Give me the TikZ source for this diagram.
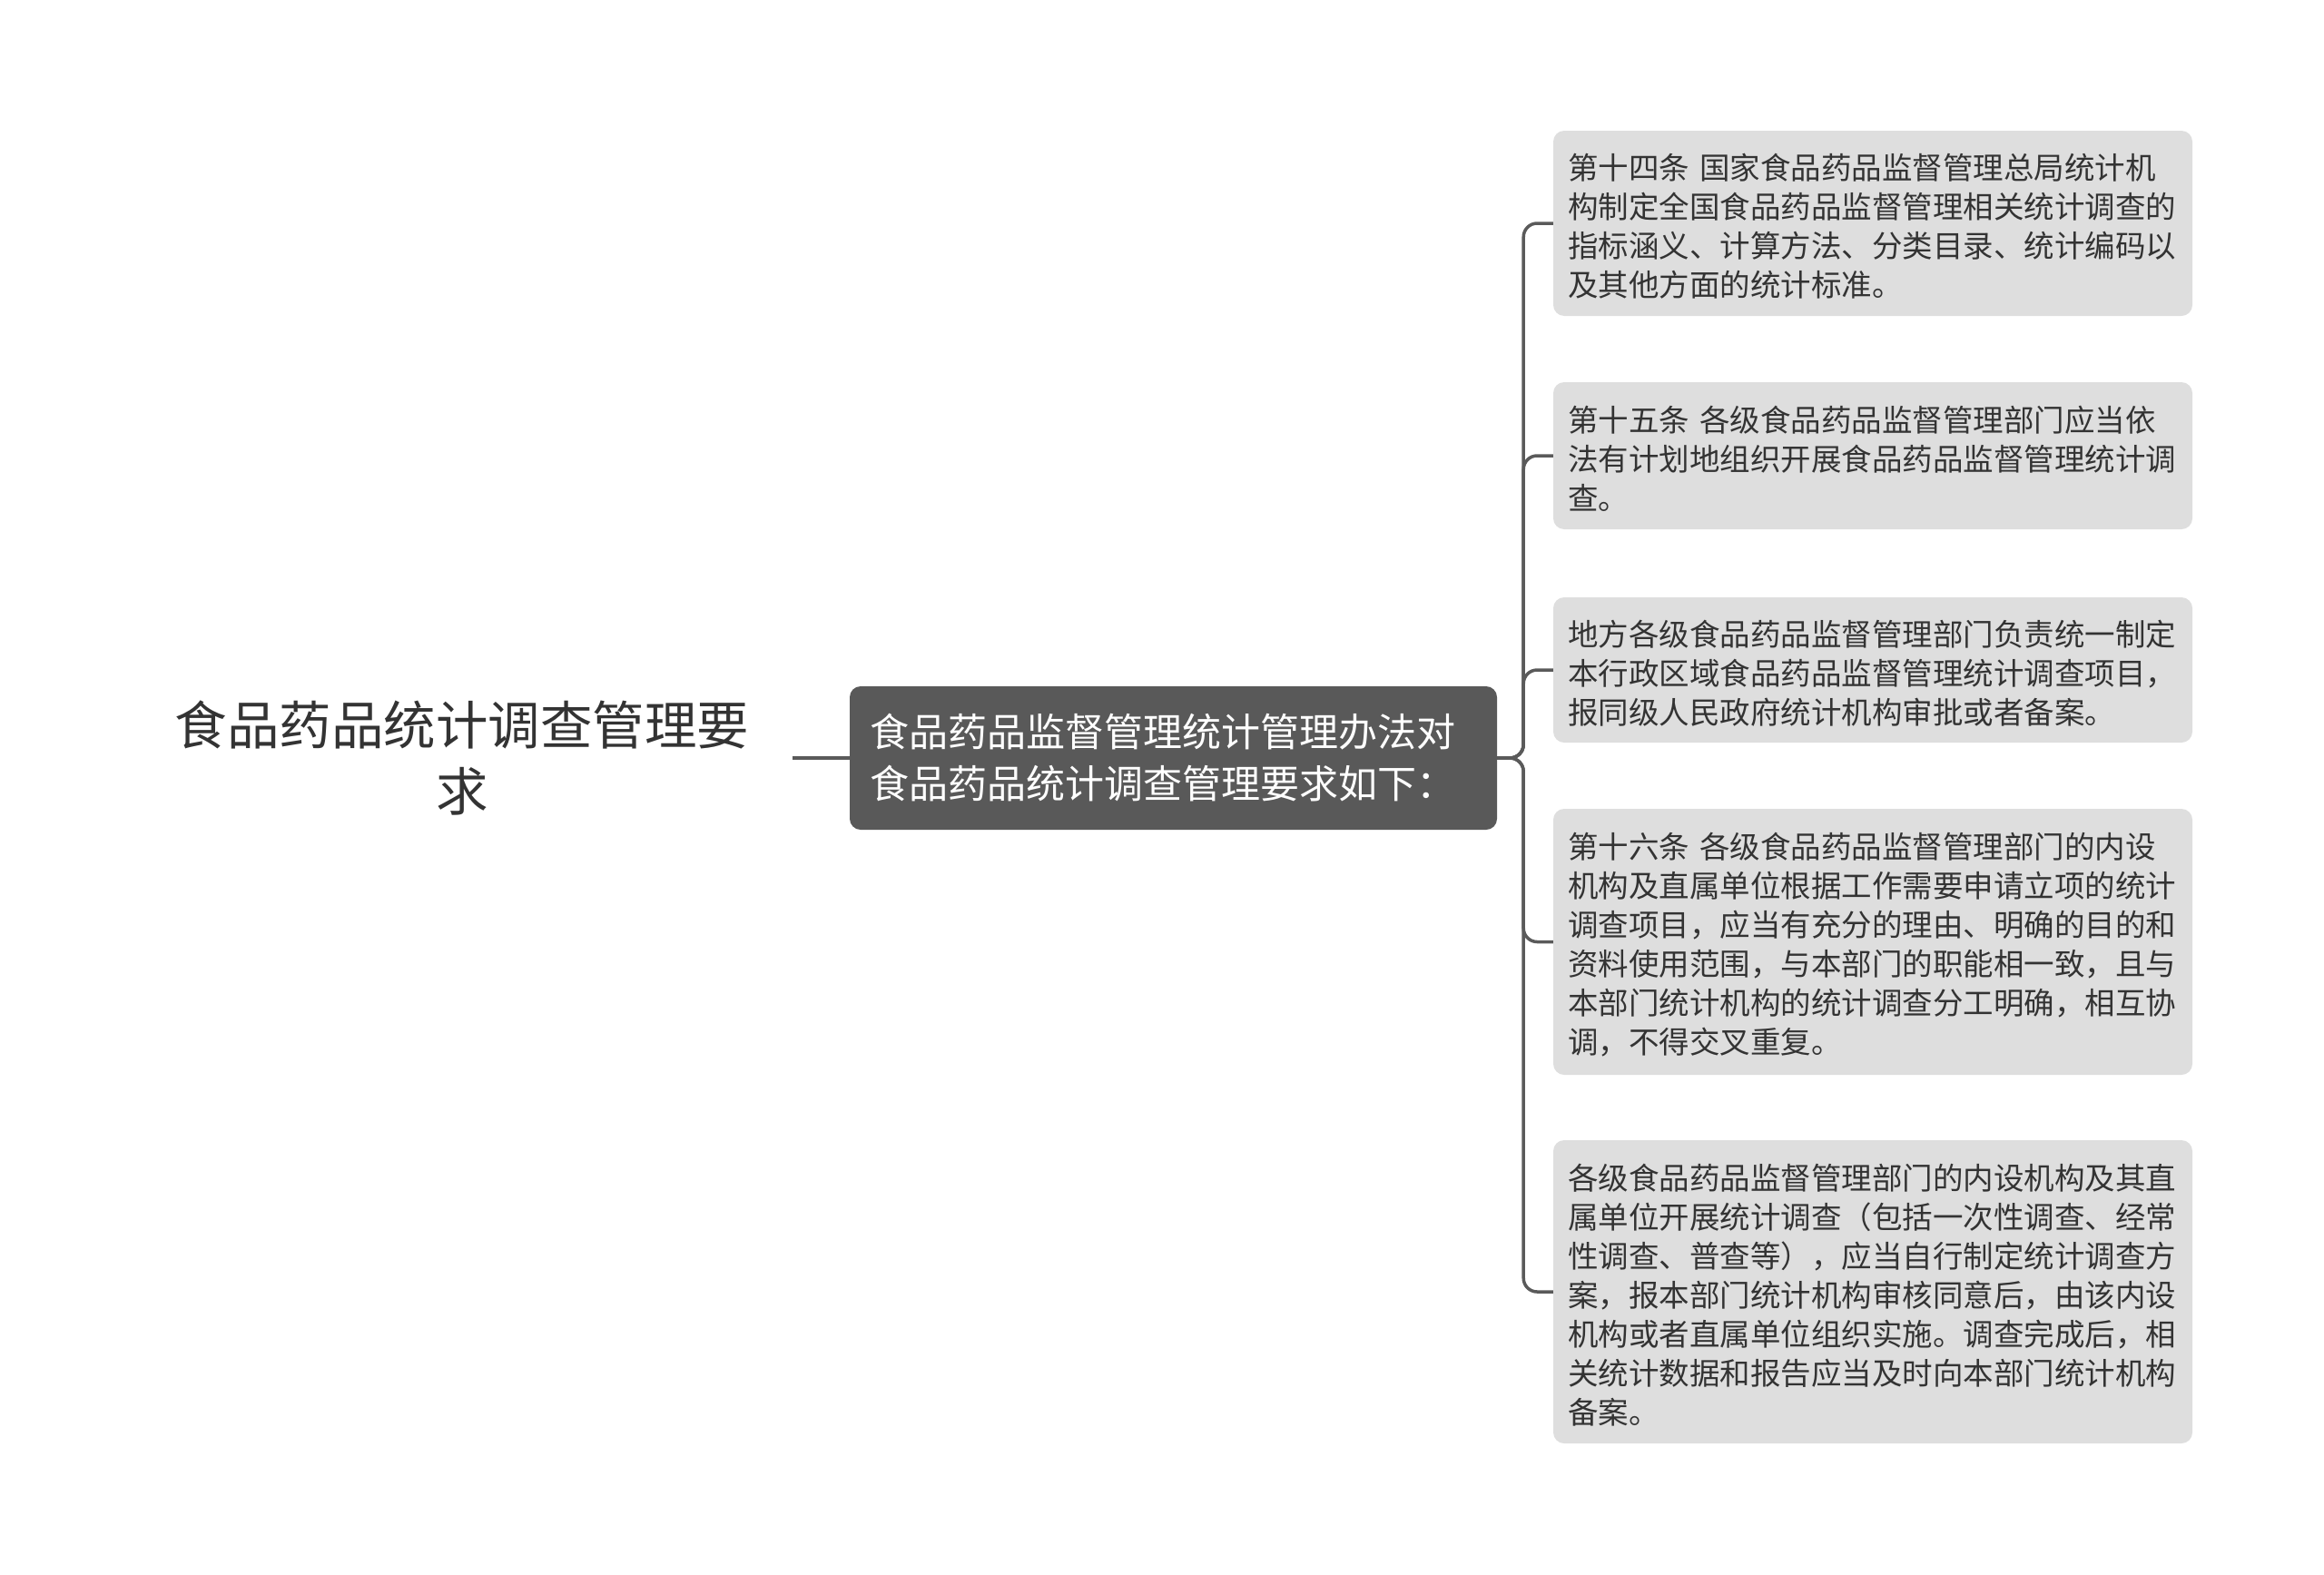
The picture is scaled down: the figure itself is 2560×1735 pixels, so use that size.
\documentclass[tikz,border=0pt]{standalone}
\usepackage{fontspec}
\newfontfamily\cjk{Noto Sans CJK SC}
\definecolor{linegray}{HTML}{5A5A5A}
\definecolor{leafgray}{HTML}{DEDEDE}
\definecolor{centergray}{HTML}{595959}
\definecolor{txtgray}{HTML}{333333}
\begin{document}
\begin{tikzpicture}[x=1pt,y=-1pt,
  leafbox/.style={fill=leafgray, rounded corners=12pt, minimum width=704pt,
    text width=672pt, align=left, inner xsep=16pt, inner ysep=0pt,
    font=\cjk\fontsize{33.5}{43}\selectfont, text=txtgray, text height=35pt},
  centerbox/.style={fill=centergray, rounded corners=12pt, minimum width=713pt,
    minimum height=158pt, text width=669pt, align=left, inner xsep=22pt,
    font=\cjk\fontsize{43}{57}\selectfont, text=white},
  rootbox/.style={text width=700pt, align=center, inner xsep=14pt,
    font=\cjk\fontsize{57.5}{73}\selectfont, text=txtgray},
  conn/.style={draw=linegray, line width=3.5pt, rounded corners=15pt}]
\useasboundingbox (0,0) rectangle (2560,1735);

\node[rootbox] (root) at (509,835) {食品药品统计调查管理要\\求};
\node[centerbox] (center) at (1292.5,835) {食品药品监督管理统计管理办法对\\食品药品统计调查管理要求如下：};

\node[leafbox, minimum height=204pt] (l1) at (2063,246) {第十四条 国家食品药品监督管理总局统计机\\构制定全国食品药品监督管理相关统计调查的\\指标涵义、计算方法、分类目录、统计编码以\\及其他方面的统计标准。};
\node[leafbox, minimum height=162pt] (l2) at (2063,502) {第十五条 各级食品药品监督管理部门应当依\\法有计划地组织开展食品药品监督管理统计调\\查。};
\node[leafbox, minimum height=160pt] (l3) at (2063,738) {地方各级食品药品监督管理部门负责统一制定\\本行政区域食品药品监督管理统计调查项目，\\报同级人民政府统计机构审批或者备案。};
\node[leafbox, minimum height=293pt] (l4) at (2063,1037.5) {第十六条 各级食品药品监督管理部门的内设\\机构及直属单位根据工作需要申请立项的统计\\调查项目，应当有充分的理由、明确的目的和\\资料使用范围，与本部门的职能相一致，且与\\本部门统计机构的统计调查分工明确，相互协\\调，不得交叉重复。};
\node[leafbox, minimum height=334pt] (l5) at (2063,1423) {各级食品药品监督管理部门的内设机构及其直\\属单位开展统计调查（包括一次性调查、经常\\性调查、普查等），应当自行制定统计调查方\\案，报本部门统计机构审核同意后，由该内设\\机构或者直属单位组织实施。调查完成后，相\\关统计数据和报告应当及时向本部门统计机构\\备案。};

\draw[conn] (root.east) -- (center.west);
\foreach \n in {l1,l2,l3,l4,l5}{
  \draw[conn] (center.east) -- ++(29,0) |- (\n.west);
}
\end{tikzpicture}
\end{document}
